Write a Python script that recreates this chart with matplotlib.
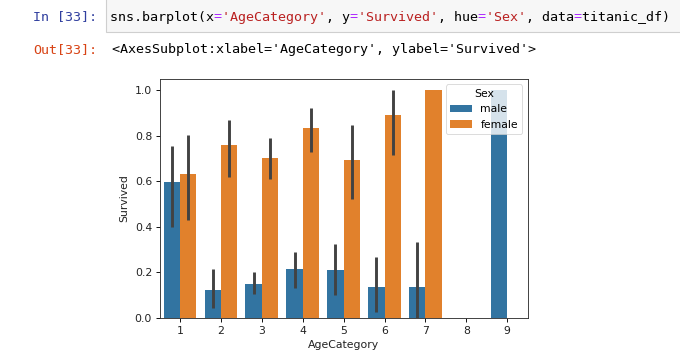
import numpy as np
import matplotlib
matplotlib.use('Agg')
import matplotlib.pyplot as plt
from matplotlib.patches import Rectangle

# values
categories = ['1', '2', '3', '4', '5', '6', '7', '8', '9']
male = [0.596, 0.123, 0.148, 0.216, 0.213, 0.135, 0.135, np.nan, 1.0]
male_lo = [0.40, 0.045, 0.106, 0.133, 0.10, 0.026, 0.0, np.nan, 1.0]
male_hi = [0.756, 0.214, 0.20, 0.292, 0.323, 0.267, 0.336, np.nan, 1.0]
female = [0.633, 0.759, 0.705, 0.836, 0.693, 0.89, 1.0, np.nan, np.nan]
female_lo = [0.429, 0.618, 0.612, 0.731, 0.524, 0.717, 1.0, np.nan, np.nan]
female_hi = [0.805, 0.872, 0.79, 0.921, 0.85, 1.0, 1.0, np.nan, np.nan]
hue_labels = ['male', 'female']

code_parts = [("sns.barplot(x", 'k'), ("=", '#AA22FF'), ("'AgeCategory'", '#BA2121'),
              (", y", 'k'), ("=", '#AA22FF'), ("'Survived'", '#BA2121'),
              (", hue", 'k'), ("=", '#AA22FF'), ("'Sex'", '#BA2121'),
              (", data", 'k'), ("=", '#AA22FF'), ("titanic_df)", 'k')]
out_text = "<AxesSubplot:xlabel='AgeCategory', ylabel='Survived'>"

W, H = 680, 364
fig = plt.figure(figsize=(6.8, 3.64), dpi=100)

def fx(px):
    return px / W

def fy(py):
    return 1 - py / H

# notebook cell decoration
fig.patches.append(Rectangle((fx(106), fy(32)), fx(700) - fx(106), fy(-3) - fy(32),
                             transform=fig.transFigure, facecolor='#f7f7f7',
                             edgecolor='#cfcfcf', linewidth=0.8, figure=fig))
mono = 'DejaVu Sans Mono'
fs = 9.6
fig.text(fx(97), fy(20.5), 'In [33]:', ha='right', va='baseline', family=mono,
         fontsize=fs, color='#303F9F')
fig.text(fx(97), fy(53), 'Out[33]:', ha='right', va='baseline', family=mono,
         fontsize=fs, color='#D84315')
# one full-width line per colour, other characters blanked, so monospace keeps them aligned
for col in set(c for s, c in code_parts):
    line = ''.join(s if c == col else ' ' * len(s) for s, c in code_parts)
    fig.text(fx(110), fy(20.5), line, ha='left', va='baseline', family=mono,
             fontsize=fs, color=col)
fig.text(fx(112), fy(53), out_text, ha='left', va='baseline', family=mono,
         fontsize=fs, color='k')

# the plot
ax = fig.add_axes([fx(159.5), fy(318), fx(527.7) - fx(159.5), fy(79) - fy(318)])
x = np.arange(len(categories))
colors = ['#3274a1', '#e1812c']
w = 0.4
sets = [(male, male_lo, male_hi), (female, female_lo, female_hi)]
for k, (vals, lo, hi) in enumerate(sets):
    pos = x - 0.2 + k * w
    ax.bar(pos, vals, width=w, color=colors[k], label=hue_labels[k], linewidth=0)
    ax.vlines(pos, lo, hi, color='#424242', linewidth=2.1, zorder=3)

fsz = 7.8
ax.set_xticks(x)
ax.set_xticklabels(categories)
ax.set_xlim(-0.5, len(categories) - 0.5)
ax.set_ylim(0, 1.05)
ax.set_yticks([0.0, 0.2, 0.4, 0.6, 0.8, 1.0])
ax.tick_params(labelsize=fsz, length=2.8, width=0.65, pad=2.6, labelcolor='#222222')
for sp in ax.spines.values():
    sp.set_linewidth(0.65)
    sp.set_color('#333333')
ax.set_xlabel('AgeCategory', fontsize=fsz, labelpad=3.2, color='#222222')
ax.set_ylabel('Survived', fontsize=fsz, labelpad=4.0, color='#222222')
leg = ax.legend(title='Sex', loc='upper right', fontsize=fsz, title_fontsize=fsz)
leg.get_frame().set_linewidth(0.6)

fig.savefig('out.png', dpi=100)
